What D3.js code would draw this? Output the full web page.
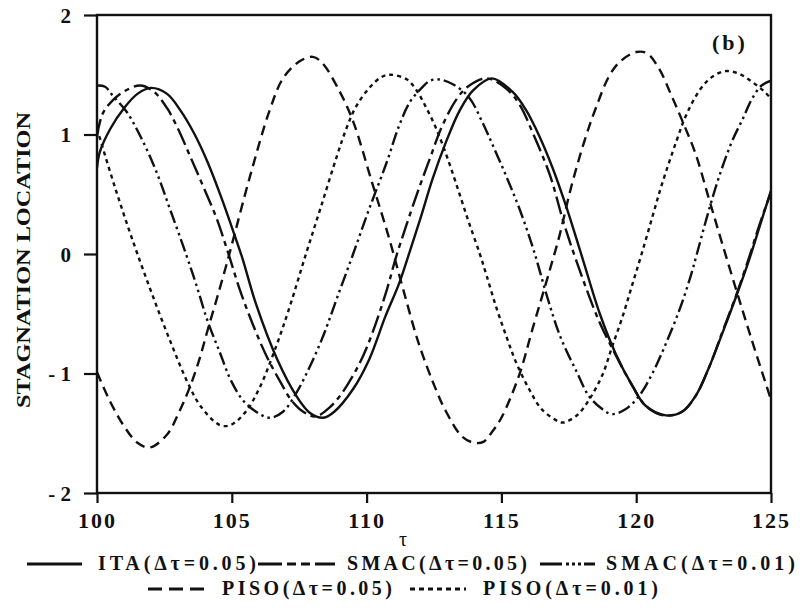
<!DOCTYPE html>
<html>
<head>
<meta charset="utf-8">
<script src="https://cdn.jsdelivr.net/npm/d3@7"></script>
<style>
  body { margin: 0; background: #fff; }
  text { font-family: "Liberation Serif", "Times New Roman", serif; font-weight: bold; fill: #111; }
</style>
</head>
<body>
<svg id="chart" width="800" height="615"></svg>
<script>
// Axis ticks
const xTicks = [100, 105, 110, 115, 120, 125];
const yTicks = [-2, -1, 0, 1, 2];

// Stagnation location vs. tau, one [tau, value] list per scheme
const itaDt005 = [
  [100, 0.72], [100.1, 0.85], [100.5, 1.05], [101, 1.22], [101.5, 1.34], [102, 1.39],
  [102.6, 1.34], [103.1, 1.2], [103.6, 1.01], [104.1, 0.77], [104.6, 0.48], [105.1, 0.16],
  [105.4, -0.04], [105.9, -0.42], [106.7, -0.89], [107.4, -1.19], [107.9, -1.33], [108.4, -1.37],
  [108.8, -1.32], [109.5, -1.13], [110.1, -0.88], [110.7, -0.52], [111.2, -0.25], [111.6, 0.02],
  [112.0, 0.3], [112.45, 0.63], [112.95, 0.94], [113.45, 1.2], [113.95, 1.37], [114.65, 1.47],
  [115.4, 1.36], [115.9, 1.21], [116.4, 0.99], [116.9, 0.72], [117.4, 0.4], [118.0, -0.03],
  [118.65, -0.5], [119.25, -0.84], [119.85, -1.1], [120.35, -1.27], [121.1, -1.35], [121.7, -1.32],
  [122.2, -1.19], [122.7, -0.95], [123.2, -0.66], [123.7, -0.36], [124.2, -0.04], [124.55, 0.21],
  [125, 0.53]
];
const smacDt005 = [
  [100, 0.98], [100.2, 1.17], [100.6, 1.29], [101, 1.36], [101.6, 1.41], [102.1, 1.36],
  [102.6, 1.22], [103, 1.05], [103.45, 0.82], [103.95, 0.56], [104.45, 0.29], [104.85, 0.02],
  [105.3, -0.3], [105.8, -0.6], [106.3, -0.86], [106.8, -1.07], [107.2, -1.22], [107.65, -1.32],
  [108.1, -1.36], [108.6, -1.29], [109.1, -1.16], [109.75, -0.91], [110.2, -0.67], [110.75, -0.3],
  [111.1, -0.02], [111.85, 0.49], [112.35, 0.8], [112.8, 1.07], [113.35, 1.3], [113.75, 1.4],
  [114.45, 1.47], [115.2, 1.38], [115.7, 1.24], [116.15, 1.02], [116.8, 0.66], [117.3, 0.27],
  [117.8, -0.07], [118.6, -0.55], [119.25, -0.85], [119.85, -1.1], [120.35, -1.27], [121.0, -1.35],
  [121.7, -1.32], [122.2, -1.19], [122.7, -0.95], [123.2, -0.65], [123.7, -0.35], [124.2, -0.02],
  [124.55, 0.23], [125, 0.52]
];
const smacDt001 = [
  [100, 1.41], [100.3, 1.4], [100.6, 1.32], [101.1, 1.19], [101.6, 0.99], [102.2, 0.69],
  [102.7, 0.38], [103.3, 0.0], [103.7, -0.27], [104.1, -0.56], [104.55, -0.82], [104.95, -1.05],
  [105.4, -1.22], [105.9, -1.32], [106.4, -1.37], [106.9, -1.32], [107.4, -1.16], [107.9, -0.94],
  [108.4, -0.68], [108.9, -0.37], [109.5, 0.0], [110.1, 0.38], [110.75, 0.77], [111.2, 1.07],
  [111.6, 1.27], [112.0, 1.38], [112.35, 1.45], [112.7, 1.46], [113.2, 1.42], [113.8, 1.31],
  [114.3, 1.1], [114.7, 0.9], [115.2, 0.64], [115.7, 0.36], [116.2, 0.03], [116.7, -0.36],
  [117.2, -0.7], [117.8, -0.99], [118.25, -1.19], [118.75, -1.3], [119.1, -1.34], [119.6, -1.3],
  [120.1, -1.19], [120.6, -1.0], [121.1, -0.75], [121.6, -0.47], [122.0, -0.2], [122.25, 0.0],
  [122.6, 0.29], [123.05, 0.63], [123.55, 0.94], [123.95, 1.13], [124.3, 1.3], [124.65, 1.41],
  [125, 1.45]
];
const pisoDt005 = [
  [100, -0.99], [100.5, -1.24], [101, -1.44], [101.5, -1.58], [101.95, -1.62], [102.6, -1.51],
  [103.05, -1.32], [103.45, -1.11], [103.8, -0.88], [104.1, -0.64], [104.5, -0.33], [104.85, -0.05],
  [105.05, 0.12], [105.7, 0.67], [106.4, 1.2], [106.9, 1.47], [107.5, 1.61], [108.0, 1.65],
  [108.35, 1.6], [109.0, 1.36], [109.5, 1.11], [110.2, 0.6], [110.85, 0.12], [111.35, -0.29],
  [111.95, -0.76], [112.6, -1.15], [112.95, -1.32], [113.55, -1.53], [114.0, -1.58], [114.35, -1.57],
  [114.65, -1.49], [115.0, -1.37], [115.65, -1.02], [116.15, -0.63], [116.8, -0.13], [117.15, 0.15],
  [117.6, 0.57], [118.1, 0.96], [118.5, 1.22], [119.0, 1.49], [119.4, 1.61], [120.0, 1.69],
  [120.4, 1.68], [120.85, 1.55], [121.3, 1.33], [121.7, 1.12], [122.2, 0.84], [122.7, 0.46],
  [123.2, 0.08], [123.9, -0.44], [124.4, -0.8], [125, -1.22]
];
const pisoDt001 = [
  [100, 1.05], [100.4, 0.75], [100.75, 0.5], [101.1, 0.26], [101.5, 0.0], [102.05, -0.34],
  [102.7, -0.72], [103.35, -1.07], [103.8, -1.26], [104.4, -1.41], [104.7, -1.44], [105.05, -1.42],
  [105.55, -1.31], [106.05, -1.11], [106.65, -0.77], [107.15, -0.44], [107.75, 0.0], [108.3, 0.39],
  [108.9, 0.82], [109.25, 1.05], [109.6, 1.23], [110.1, 1.39], [110.55, 1.48], [110.9, 1.5],
  [111.5, 1.46], [111.85, 1.37], [112.2, 1.23], [112.6, 1.04], [113.05, 0.77], [113.45, 0.5],
  [113.8, 0.26], [114.2, 0.0], [114.45, -0.18], [114.8, -0.44], [115.2, -0.7], [115.55, -0.91],
  [116.05, -1.14], [116.5, -1.3], [117.1, -1.4], [117.3, -1.41], [117.8, -1.35], [118.25, -1.22],
  [118.75, -1.01], [119.1, -0.78], [119.5, -0.52], [119.85, -0.26], [120.2, 0.0], [120.6, 0.31],
  [120.95, 0.58], [121.5, 0.95], [121.85, 1.16], [122.35, 1.37], [122.8, 1.48], [123.3, 1.53],
  [123.8, 1.51], [124.3, 1.44], [124.75, 1.36], [125, 1.3]
];

const seriesNames = ["ITA(\u0394\u03c4=0.05)", "SMAC(\u0394\u03c4=0.05)", "SMAC(\u0394\u03c4=0.01)",
                     "PISO(\u0394\u03c4=0.05)", "PISO(\u0394\u03c4=0.01)"];
const seriesData = [itaDt005, smacDt005, smacDt001, pisoDt005, pisoDt001];

// Line styles per scheme
const dashes = [null, "18,5,5,5", "13,4,2.5,4,2.5,4", "10,6", "4,4"];

const svg = d3.select("#chart");
const margin = { left: 97, right: 29, top: 15, bottom: 122 };
const W = 800, H = 615;
const x = d3.scaleLinear().domain([100, 125]).range([margin.left, W - margin.right]);
const y = d3.scaleLinear().domain([-2, 2]).range([H - margin.bottom, margin.top]);

svg.append("rect").attr("width", W).attr("height", H).attr("fill", "#fff");

svg.append("clipPath").attr("id", "plotClip")
  .append("rect")
  .attr("x", x(100)).attr("y", y(2))
  .attr("width", x(125) - x(100)).attr("height", y(-2) - y(2));

// Curves
const line = d3.line()
  .x(d => x(d[0]))
  .y(d => y(d[1]))
  .curve(d3.curveCatmullRom.alpha(0.5));

const curves = svg.append("g").attr("clip-path", "url(#plotClip)");
seriesData.forEach((data, i) => {
  curves.append("path")
    .datum(data)
    .attr("d", line)
    .attr("fill", "none")
    .attr("stroke", "#111")
    .attr("stroke-width", 2.4)
    .attr("stroke-dasharray", dashes[i]);
});

// Axes
const xAxis = d3.axisBottom(x).tickValues(xTicks).tickSize(10).tickFormat(d3.format("d"));
const yAxis = d3.axisLeft(y).tickValues(yTicks).tickSize(13)
  .tickFormat(d => d < 0 ? "- " + Math.abs(d) : String(d));

const gx = svg.append("g").attr("transform", `translate(0,${y(-2)})`).call(xAxis);
const gy = svg.append("g").attr("transform", `translate(${x(100)},0)`).call(yAxis);

[gx, gy].forEach(g => {
  g.select(".domain").remove();
  g.selectAll(".tick line").attr("stroke", "#111").attr("stroke-width", 2.2);
});
gx.selectAll(".tick text")
  .attr("y", 19)
  .attr("dy", "0.71em")
  .style("font-size", "22px")
  .style("letter-spacing", "2px")
  .style("font-family", "'Liberation Serif', serif")
  .style("font-weight", "bold")
  .attr("fill", "#111");
gy.selectAll(".tick text")
  .attr("x", -26)
  .attr("dy", "0.34em")
  .style("font-size", "21px")
  .style("font-family", "'Liberation Serif', serif")
  .style("font-weight", "bold")
  .attr("fill", "#111");

// Frame
svg.append("rect")
  .attr("x", x(100)).attr("y", y(2))
  .attr("width", x(125) - x(100)).attr("height", y(-2) - y(2))
  .attr("fill", "none").attr("stroke", "#111").attr("stroke-width", 2.4);

// Titles
svg.append("text")
  .attr("transform", `translate(30,${(y(2) + y(-2)) / 2 + 6}) rotate(-90)`)
  .attr("text-anchor", "middle")
  .attr("textLength", 296)
  .attr("lengthAdjust", "spacingAndGlyphs")
  .style("font-size", "19px")
  .text("STAGNATION LOCATION");

svg.append("text")
  .attr("x", 403).attr("y", 546)
  .attr("text-anchor", "middle")
  .style("font-size", "20px")
  .style("font-weight", "normal")
  .text("\u03c4");

svg.append("text")
  .attr("x", 712).attr("y", 50)
  .style("font-size", "22px")
  .style("letter-spacing", "3px")
  .text("(b)");

// Legend
const legendItems = [
  { s: 0, x0: 27, x1: 82, tx: 98, tw: 158, row: 0 },
  { s: 1, x0: 258, x1: 335, tx: 347, tw: 180, row: 0 },
  { s: 2, x0: 540, x1: 595, tx: 606, tw: 189, row: 0 },
  { s: 3, x0: 148, x1: 207, tx: 222, tw: 170, row: 1 },
  { s: 4, x0: 410, x1: 466, tx: 483, tw: 175, row: 1 }
];
const legendRows = [570, 595];
const legendDash = [null, "24,5,9,5,9,5", "22,4,3,3,3,3,3,3", "14,7", "5,4"];
const lg = svg.append("g");
legendItems.forEach(it => {
  const by = legendRows[it.row];
  lg.append("line")
    .attr("x1", it.x0).attr("x2", it.x1)
    .attr("y1", by - 6).attr("y2", by - 6)
    .attr("stroke", "#111").attr("stroke-width", 3.2)
    .attr("stroke-dasharray", legendDash[it.s]);
  lg.append("text")
    .attr("x", it.tx).attr("y", by)
    .attr("textLength", it.tw)
    .attr("lengthAdjust", "spacing")
    .style("font-size", "20px")
    .text(seriesNames[it.s]);
});
</script>
</body>
</html>
